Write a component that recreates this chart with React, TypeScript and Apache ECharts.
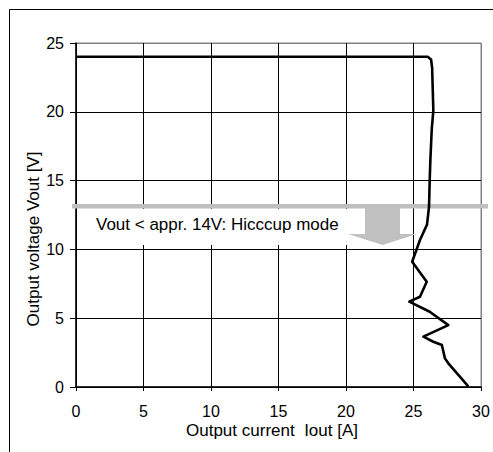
import React, { useEffect, useRef } from "react";
import * as echarts from "echarts";

const currentValues = [0, 26.05, 26.3, 26.38, 26.47, 26.35, 26.25, 26.2, 26.15, 26.0, 25.48, 24.9, 25.98, 25.48, 24.69, 26.2, 27.58, 25.73, 26.47, 27.1, 27.33, 27.58, 29.06];
const voltageValues = [24.0, 24.0, 23.8, 23.2, 20.1, 18.7, 16.5, 15.0, 13.1, 11.8, 10.68, 9.1, 7.65, 6.56, 6.2, 5.47, 4.5, 3.66, 3.29, 3.05, 2.08, 1.72, 0.05];
const xTicks = [0, 5, 10, 15, 20, 25, 30];
const yTicks = [0, 5, 10, 15, 20, 25];
const annotationText = "Vout < appr. 14V: Hicccup mode";
const xName = "Output current  Iout [A]";
const yName = "Output voltage Vout [V]";

const FONT = '"Liberation Sans", Arial, sans-serif';

export default function App() {
  const ref = useRef<HTMLDivElement>(null);
  useEffect(() => {
    if (!ref.current) return;
    const chart = echarts.init(ref.current, undefined, { renderer: "svg" });
    const data = currentValues.map((c, i) => [c, voltageValues[i]]);
    chart.setOption({
      animation: false,
      backgroundColor: "#fff",
      grid: { left: 76, right: 12, top: 43, bottom: 65, show: true, borderColor: "#808080", borderWidth: 1 },
      xAxis: {
        type: "value",
        min: xTicks[0],
        max: xTicks[xTicks.length - 1],
        interval: 5,
        axisLine: { show: true, onZero: false, lineStyle: { color: "#000", width: 1.5 } },
        axisTick: { show: true, length: 4, lineStyle: { color: "#000" } },
        axisLabel: { color: "#000", fontSize: 16, fontFamily: FONT, margin: 16 },
        splitLine: { show: true, lineStyle: { color: ["#000", "#000", "#000", "#000", "#000", "#000", "#808080"], width: 1 } },
      },
      yAxis: {
        type: "value",
        min: yTicks[0],
        max: yTicks[yTicks.length - 1],
        interval: 5,
        axisLine: { show: true, onZero: false, lineStyle: { color: "#000", width: 1.5 } },
        axisTick: { show: true, length: 6, lineStyle: { color: "#000" } },
        axisLabel: { color: "#000", fontSize: 16, fontFamily: FONT, margin: 12 },
        splitLine: { show: true, lineStyle: { color: ["#000", "#000", "#000", "#000", "#000", "#808080"], width: 1 } },
      },
      series: [
        {
          type: "line",
          data,
          z: 10,
          showSymbol: false,
          symbol: "none",
          lineStyle: { color: "#000", width: 2.6, join: "round" },
        },
      ],
      graphic: [
        { type: "rect", z: 0, silent: true, shape: { x: 9.5, y: 9.5, width: 600, height: 600 }, style: { fill: "none", stroke: "#000", lineWidth: 1 } },
        { type: "rect", z: 4, silent: true, shape: { x: 88, y: 209, width: 322, height: 36 }, style: { fill: "#fff" } },
        { type: "rect", z: 5, silent: true, shape: { x: 72, y: 204, width: 416, height: 4.5 }, style: { fill: "#c0c0c0" } },
        {
          type: "polygon", z: 6, silent: true,
          shape: { points: [[365, 208], [400, 208], [400, 234], [417, 234], [382.5, 245], [348, 234], [365, 234]] },
          style: { fill: "#c0c0c0" },
        },
        {
          type: "text", z: 7, silent: true, x: 96, y: 224,
          style: { text: annotationText, fill: "#000", font: `17px ${FONT}`, textAlign: "left", textVerticalAlign: "middle", verticalAlign: "middle" },
        },
        {
          type: "text", z: 7, silent: true, x: 272, y: 430,
          style: { text: xName, fill: "#000", font: `17px ${FONT}`, textAlign: "center", align: "center", textVerticalAlign: "middle", verticalAlign: "middle" },
        },
        {
          type: "text", z: 7, silent: true, x: 33, y: 239, rotation: Math.PI / 2,
          style: { text: yName, fill: "#000", font: `17px ${FONT}`, textAlign: "center", align: "center", textVerticalAlign: "middle", verticalAlign: "middle" },
        },
      ],
    });
    return () => chart.dispose();
  }, []);
  return <div ref={ref} style={{ position: "fixed", left: 0, top: 0, width: 493, height: 452 }} />;
}
